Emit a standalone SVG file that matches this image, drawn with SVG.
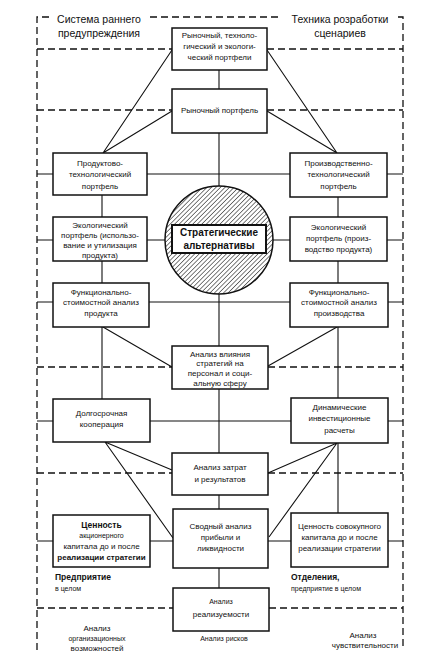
<svg xmlns="http://www.w3.org/2000/svg" width="444" height="660" viewBox="0 0 444 660">
<style>
.bx{fill:#fff;stroke:#111;stroke-width:1.5}
.ln{fill:none;stroke:#111;stroke-width:1.1}
.ds{fill:none;stroke:#111;stroke-width:1.3;stroke-dasharray:7 4}
text{font-family:"Liberation Sans","DejaVu Sans",sans-serif;fill:#111;text-anchor:middle}
.t{font-size:8px}
.tb{font-size:8.5px;font-weight:bold}
.h{font-size:10.5px}
.s{font-size:7px}
.l{text-anchor:start}
</style>
<defs>
<pattern id="hatch" width="3.2" height="3.2" patternUnits="userSpaceOnUse" patternTransform="rotate(45)">
<rect width="3.2" height="3.2" fill="#fff"/>
<line x1="0" y1="0" x2="0" y2="3.2" stroke="#111" stroke-width="1.1"/>
</pattern>
</defs>
<rect width="444" height="660" fill="#fff"/>

<g id="frame">
<path class="ds" d="M37,650 V17 H53 M150,17 H278 M398,17 H403 V650"/>
<path class="ds" d="M37,49 H172 M267,49 H403"/>
<path class="ds" d="M37,110 H172 M267,110 H403"/>
<path class="ds" d="M37,367 H172 M268,367 H403"/>
<path class="ds" d="M37,473 H172 M268,473 H403"/>
<path class="ds" d="M37,608 H173 M269,608 H403"/>
<text class="h" x="99" y="23">Система раннего</text>
<text class="h" x="99" y="37">предупреждения</text>
<text class="h" x="340" y="23">Техника розработки</text>
<text class="h" x="340" y="37">сценариев</text>
</g>

<g id="connectors">
<path class="ln" d="M219,70 V89 M219,133 V186 M219,294 V346 M219,389 V453 M219,495 V509 M219,568 V588"/>
<path class="ln" d="M102,195 V217 M102,261 V283 M102,327 V399"/>
<path class="ln" d="M338,197 V217 M338,261 V283 M338,327 V398 M338,443 V513"/>
<path class="ln" d="M37,174 H53 M147,174 H290 M387,174 H403"/>
<path class="ln" d="M37,240 H53 M147,240 H165 M273,240 H290 M387,240 H403"/>
<path class="ln" d="M37,302 H53 M149,302 H290 M388,302 H403"/>
<path class="ln" d="M37,421 H53 M150,421 H291 M388,421 H403"/>
<path class="ln" d="M37,541 H53 M150,541 H173 M268,541 H291 M388,541 H403"/>
<path class="ln" d="M172,50 L103,153 L172,111 M267,50 L337,153 L267,111"/>
<path class="ln" d="M103,327 L172,367 M337,327 L268,366"/>
<path class="ln" d="M105,442 L172,470 M105,442 L173,538"/>
<path class="ln" d="M337,443 L268,473 M337,443 L269,537"/>
</g>

<g id="n-top">
<rect class="bx" x="172" y="28" width="95" height="42"/>
<text class="t" x="219.500" y="38">Рыночный, техноло-</text>
<text class="t" x="219.500" y="49">гический и экологи-</text>
<text class="t" x="219.500" y="60">ческий портфели</text>
</g>
<g id="n-market">
<rect class="bx" x="172" y="89" width="95" height="44"/>
<text class="t" x="219.500" y="113">Рыночный портфель</text>
</g>
<g id="n-prodtech">
<rect class="bx" x="53" y="153" width="94" height="42"/>
<text class="t" x="100" y="166">Продуктово-</text>
<text class="t" x="100" y="177">технологический</text>
<text class="t" x="100" y="189">портфель</text>
</g>
<g id="n-prodtech2">
<rect class="bx" x="290" y="153" width="97" height="44"/>
<text class="t" x="338.500" y="166">Производственно-</text>
<text class="t" x="338.500" y="177">технологический</text>
<text class="t" x="338.500" y="189">портфель</text>
</g>
<g id="n-strat">
<circle cx="219" cy="240" r="54" fill="url(#hatch)" stroke="#111" stroke-width="1.5"/>
<rect x="172" y="225" width="94" height="28" fill="#fff" stroke="#111" stroke-width="2"/>
<text class="tb" x="219" y="236" style="font-size:10px">Стратегические</text>
<text class="tb" x="219" y="249" style="font-size:10px">альтернативы</text>
</g>
<g id="n-eco1">
<rect class="bx" x="53" y="217" width="94" height="44"/>
<text class="t" x="100" y="228">Экологический</text>
<text class="t" x="100" y="238">портфель (использо-</text>
<text class="t" x="100" y="248">вание и утилизация</text>
<text class="t" x="100" y="258">продукта)</text>
</g>
<g id="n-eco2">
<rect class="bx" x="290" y="217" width="97" height="44"/>
<text class="t" x="338.500" y="230">Экологический</text>
<text class="t" x="338.500" y="241">портфель (произ-</text>
<text class="t" x="338.500" y="252">водство продукта)</text>
</g>
<g id="n-fsa1">
<rect class="bx" x="53" y="283" width="96" height="44"/>
<text class="t" x="101" y="295">Функционально-</text>
<text class="t" x="101" y="305">стоимостной анализ</text>
<text class="t" x="101" y="316">продукта</text>
</g>
<g id="n-fsa2">
<rect class="bx" x="290" y="283" width="98" height="44"/>
<text class="t" x="339" y="295">Функционально-</text>
<text class="t" x="339" y="305">стоимостной анализ</text>
<text class="t" x="339" y="316">производства</text>
</g>
<g id="n-social">
<rect class="bx" x="172" y="346" width="96" height="43"/>
<text class="t" x="220" y="357">Анализ влияния</text>
<text class="t" x="220" y="366">стратегий на</text>
<text class="t" x="220" y="376">персонал и соци-</text>
<text class="t" x="220" y="386">альную сферу</text>
</g>
<g id="n-coop">
<rect class="bx" x="53" y="399" width="97" height="43"/>
<text class="t" x="101.500" y="416">Долгосрочная</text>
<text class="t" x="101.500" y="427">кооперация</text>
</g>
<g id="n-invest">
<rect class="bx" x="291" y="398" width="97" height="45"/>
<text class="t" x="339.500" y="410">Динамические</text>
<text class="t" x="339.500" y="421">инвестиционные</text>
<text class="t" x="339.500" y="433">расчеты</text>
</g>
<g id="n-costs">
<rect class="bx" x="172" y="453" width="96" height="42"/>
<text class="t" x="220" y="470">Анализ затрат</text>
<text class="t" x="220" y="482">и результатов</text>
</g>
<g id="n-value1">
<rect class="bx" x="53" y="515" width="97" height="52"/>
<text class="tb" x="101.500" y="528">Ценность</text>
<text class="s" x="101.500" y="538">акционерного</text>
<text class="t" x="101.500" y="549">капитала до и после</text>
<text class="tb" x="101.500" y="560" style="font-size:8px">реализации стратегии</text>
</g>
<g id="n-summary">
<rect class="bx" x="173" y="509" width="95" height="59"/>
<text class="t" x="220.500" y="529">Сводный анализ</text>
<text class="t" x="220.500" y="540">прибыли и</text>
<text class="t" x="220.500" y="551">ликвидности</text>
</g>
<g id="n-value2">
<rect class="bx" x="291" y="513" width="97" height="54"/>
<text class="t" x="339.500" y="529">Ценность совокупного</text>
<text class="t" x="339.500" y="540">капитала до и после</text>
<text class="t" x="339.500" y="551">реализации стратегии</text>
</g>
<g id="n-feasible">
<rect class="bx" x="173" y="588" width="96" height="43"/>
<text class="s" x="221" y="604">Анализ</text>
<text class="t" x="221" y="617">реализуемости</text>
</g>

<g id="labels">
<text class="tb l" x="55" y="580" style="font-size:8.5px">Предприятие</text>
<text class="s l" x="55" y="591">в целом</text>
<text class="tb l" x="291" y="580" style="font-size:8.5px">Отделения,</text>
<text class="s l" x="291" y="591">предприятие в целом</text>
<text class="t" x="97" y="631">Анализ</text>
<text class="s" x="97" y="641">организационных</text>
<text class="t" x="97" y="651">возможностей</text>
<text class="s" x="224" y="641">Анализ рисков</text>
<text class="t" x="363" y="638">Анализ</text>
<text class="t" x="365" y="648">чувствительности</text>
</g>
</svg>
